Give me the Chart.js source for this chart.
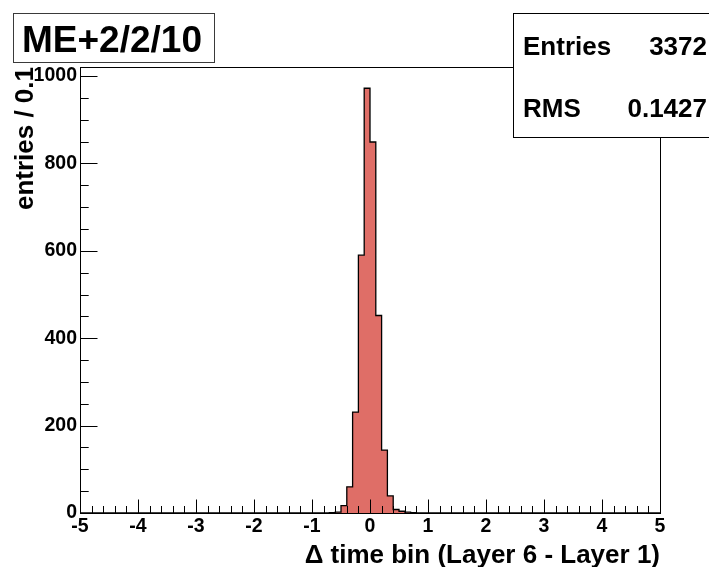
<!DOCTYPE html>
<html>
<head>
<meta charset="utf-8">
<title>ME+2/2/10</title>
<script src="https://cdn.jsdelivr.net/npm/chart.js@4/dist/chart.umd.min.js"></script>
<style>
  html, body { margin: 0; padding: 0; background: #ffffff; }
  #wrap { width: 709px; height: 567px; position: relative; }
</style>
</head>
<body>
<div id="wrap"><canvas id="c" width="709" height="567"></canvas></div>
<script>
// Histogram binning: 100 bins of width 0.1 between -5 and 5
const binLow = -5;
const binHigh = 5;
const binWidth = 0.1;

// Entries per bin, bin 0 = [-5.0, -4.9)
const binCounts = [
  0, 0, 0, 0, 0, 0, 0, 0, 0, 0,
  0, 0, 0, 0, 0, 0, 0, 0, 0, 0,
  0, 0, 0, 0, 0, 0, 0, 0, 0, 0,
  0, 0, 0, 0, 0, 0, 0, 0, 0, 0,
  0, 0, 0, 1, 2, 17, 60, 231, 590, 972,
  849, 452, 144, 39, 8, 4, 2, 1, 0, 0,
  0, 0, 0, 0, 0, 0, 0, 0, 0, 0,
  0, 0, 0, 0, 0, 0, 0, 0, 0, 0,
  0, 0, 0, 0, 0, 0, 0, 0, 0, 0,
  0, 0, 0, 0, 0, 0, 0, 0, 0, 0
];

const xTickLabels = ['-5', '-4', '-3', '-2', '-1', '0', '1', '2', '3', '4', '5'];
const yTickValues = [0, 200, 400, 600, 800, 1000];
const yTickLabels = ['0', '200', '400', '600', '800', '1000'];

const histTitle = 'ME+2/2/10';
const xTitle = '\u0394 time bin (Layer 6 - Layer 1)';
const yTitle = 'entries / 0.1';
const statNames = ['Entries', 'RMS'];
const statValues = ['3372', '0.1427'];

// y range leaves 5% headroom above the tallest bin
const yMax = Math.max(...binCounts) * 1.05;

// Step outline: one point per lower bin edge, closed at the upper edge
const stepPoints = binCounts.map((v, i) => ({ x: binLow + i * binWidth, y: v }));
stepPoints.push({ x: binHigh, y: 0 });

const FONT = '"Liberation Sans", Arial, Helvetica, sans-serif';

const decor = {
  id: 'decor',
  afterDraw(chart) {
    const ctx = chart.ctx;
    const a = chart.chartArea;
    const xs = chart.scales.x;
    const ys = chart.scales.y;
    ctx.save();

    // frame
    ctx.strokeStyle = '#000';
    ctx.lineWidth = 1;
    ctx.strokeRect(Math.round(a.left) + 0.5, Math.round(a.top) + 0.5,
                   Math.round(a.right - a.left), Math.round(a.bottom - a.top));

    // inward ticks on the x axis (major every 1, minor every 0.2)
    ctx.beginPath();
    for (let k = 0; k <= 50; k++) {
      const v = binLow + k * 0.2;
      const px = Math.round(xs.getPixelForValue(v)) + 0.5;
      const len = (k % 5 === 0) ? 13.5 : 7;
      ctx.moveTo(px, a.bottom);
      ctx.lineTo(px, a.bottom - len);
    }
    // inward ticks on the y axis (major every 200, minor every 50)
    for (let k = 0; k * 50 <= yMax; k++) {
      const py = Math.round(ys.getPixelForValue(k * 50)) + 0.5;
      const len = (k % 4 === 0) ? 17.5 : 8.7;
      ctx.moveTo(a.left, py);
      ctx.lineTo(a.left + len, py);
    }
    ctx.stroke();

    // y tick labels
    ctx.fillStyle = '#000';
    ctx.font = 'bold 19.5px ' + FONT;
    ctx.textAlign = 'right';
    ctx.textBaseline = 'middle';
    yTickValues.forEach((v, i) => {
      ctx.fillText(yTickLabels[i], a.left - 3, ys.getPixelForValue(v));
    });

    // axis titles
    ctx.font = 'bold 26px ' + FONT;
    ctx.textAlign = 'right';
    ctx.textBaseline = 'alphabetic';
    ctx.fillText(xTitle, a.right, 563);

    ctx.save();
    ctx.translate(33, a.top);
    ctx.rotate(-Math.PI / 2);
    ctx.textAlign = 'right';
    ctx.textBaseline = 'alphabetic';
    ctx.fillText(yTitle, 0, 0);
    ctx.restore();

    // histogram title box
    ctx.fillStyle = '#fff';
    ctx.fillRect(13, 13, 201, 49);
    ctx.strokeStyle = '#3a3a3a';
    ctx.strokeRect(13.5, 13.5, 201, 49);
    ctx.fillStyle = '#000';
    ctx.font = 'bold 37px ' + FONT;
    ctx.textAlign = 'left';
    ctx.textBaseline = 'middle';
    ctx.fillText(histTitle, 22, 42);

    // statistics box
    ctx.fillStyle = '#fff';
    ctx.fillRect(513, 13, 200, 124);
    ctx.strokeStyle = '#000';
    ctx.strokeRect(513.5, 13.5, 200, 124);
    ctx.fillStyle = '#000';
    ctx.font = 'bold 26px ' + FONT;
    const rowY = [48, 110];
    statNames.forEach((n, i) => {
      ctx.textAlign = 'left';
      ctx.fillText(n, 523, rowY[i]);
      ctx.textAlign = 'right';
      ctx.fillText(statValues[i], 707, rowY[i]);
    });

    ctx.restore();
  }
};

new Chart(document.getElementById('c'), {
  type: 'line',
  data: {
    datasets: [{
      data: stepPoints,
      stepped: 'before',
      fill: 'origin',
      backgroundColor: '#df6e67',
      borderColor: '#000',
      borderWidth: 1.3,
      pointRadius: 0,
      tension: 0
    }]
  },
  options: {
    responsive: false,
    animation: false,
    devicePixelRatio: 1,
    layout: { padding: { top: 67, right: 49, left: 0, bottom: 0 } },
    plugins: { legend: { display: false }, tooltip: { enabled: false }, title: { display: false } },
    scales: {
      x: {
        type: 'linear',
        min: binLow,
        max: binHigh,
        grid: { display: false, drawTicks: false },
        border: { display: false },
        afterFit: s => { s.height = 54; },
        ticks: {
          stepSize: 1,
          autoSkip: false,
          maxRotation: 0,
          padding: 2,
          color: '#000',
          font: { family: FONT, size: 19.5, weight: 'bold' },
          callback: v => xTickLabels[Math.round(v - binLow)]
        }
      },
      y: {
        type: 'linear',
        min: 0,
        max: yMax,
        grid: { display: false, drawTicks: false },
        border: { display: false },
        afterFit: s => { s.width = 80; },
        ticks: { display: false }
      }
    }
  },
  plugins: [decor]
});
</script>
</body>
</html>
